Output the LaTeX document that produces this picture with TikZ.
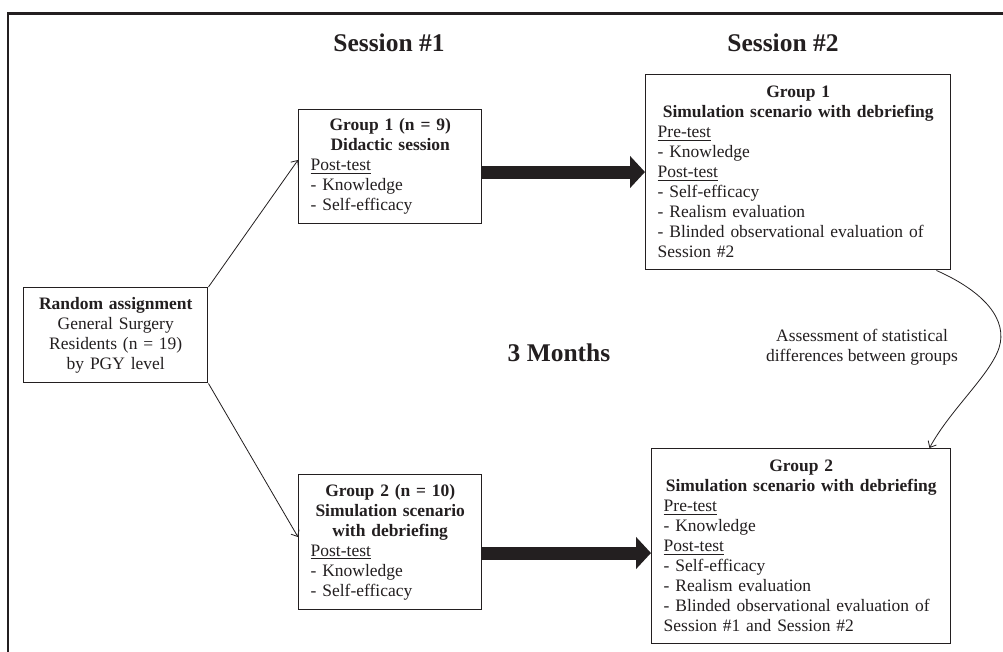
\documentclass[tikz,border=0pt]{standalone}
\usepackage{fontspec}
\setmainfont{Liberation Serif}
\usetikzlibrary{arrows.meta,calc}
\definecolor{ink}{RGB}{35,31,32}
\begin{document}
\begin{tikzpicture}[x=0.75pt,y=-0.75pt,
  box/.style={draw=ink, line width=1.1pt, rectangle, anchor=north west, inner xsep=9pt, inner ysep=0pt, font=\fontsize{13.1}{15}\selectfont, text=ink},
  title/.style={font=\fontsize{19.1}{22}\selectfont\bfseries, text=ink},
  lbl/.style={font=\fontsize{13.1}{15}\selectfont, text=ink, align=center},
  thin/.style={draw=ink, line width=0.6pt, -{Straight Barb[length=4pt,width=7pt]}},
  fat/.style={draw=ink, line width=9.75pt, -{Triangle[length=11.25pt,width=23.5pt]}}]
\clip (0,0) rectangle (1003,651);
\fill[white] (0,0) rectangle (1003,651);
% outer frame (cropped on right and bottom)
\draw[ink, line width=2pt] (8,13.5) rectangle (1030,680);

% titles
\node[title] (s1) at (389,43) {Session \#1};
\node[title] (s2) at (783,43) {Session \#2};
\node[title] (months) at (559,353) {3 Months};
\node[lbl] (assess) at (862,347) {Assessment of statistical\\differences between groups};

% boxes
\node[box, minimum width=138pt, minimum height=71.25pt, text width=120pt, align=center] (rand) at (23,287)
  {\textbf{Random assignment}\\General Surgery\\Residents (n = 19)\\by PGY level};

\node[box, minimum width=137.25pt, minimum height=85.5pt, text width=119.25pt, align=left] (g1s1) at (298,109)
  {{\centering\bfseries Group 1 (n = 9)\\Didactic session\par}\underline{Post-test}\\- Knowledge\\- Self-efficacy};

\node[box, minimum width=137.25pt, minimum height=101.25pt, text width=119.25pt, align=left] (g2s1) at (298,474)
  {{\centering\bfseries Group 2 (n = 10)\\Simulation scenario\\with debriefing\par}\underline{Post-test}\\- Knowledge\\- Self-efficacy};

\node[box, minimum width=228.75pt, minimum height=146.25pt, text width=210.75pt, align=left] (g1s2) at (645,74)
  {{\centering\bfseries Group 1\\Simulation scenario with debriefing\par}\underline{Pre-test}\\- Knowledge\\\underline{Post-test}\\- Self-efficacy\\- Realism evaluation\\- Blinded observational evaluation of\\Session \#2};

\node[box, minimum width=224.25pt, minimum height=146.25pt, text width=206.25pt, align=left] (g2s2) at (651,448)
  {{\centering\bfseries Group 2\\Simulation scenario with debriefing\par}\underline{Pre-test}\\- Knowledge\\\underline{Post-test}\\- Self-efficacy\\- Realism evaluation\\- Blinded observational evaluation of\\Session \#1 and Session \#2};

% helper coordinates
\coordinate (y160) at (0,160);
\coordinate (y537) at (0,537);
\coordinate (y172) at (0,172);
\coordinate (y553) at (0,553);

% thin arrows
\draw[thin] (rand.north east) -- (g1s1.west |- y160);
\draw[thin] (rand.south east) -- (g2s1.west |- y537);

% fat arrows
\draw[fat] (g1s1.east |- y172) -- (g1s2.west |- y172);
\draw[fat] (g2s1.east |- y553) -- (g2s2.west |- y553);

% curved arrow
\coordinate (cs) at ($(g1s2.south east)+(-15,0)$);
\coordinate (ce) at ($(g2s2.north east)+(-22,0)$);
\draw[thin] (cs) .. controls (985,292) and (1008,320) .. (999,348) .. controls (990,375) and (950,410) .. (ce);
\end{tikzpicture}
\end{document}
